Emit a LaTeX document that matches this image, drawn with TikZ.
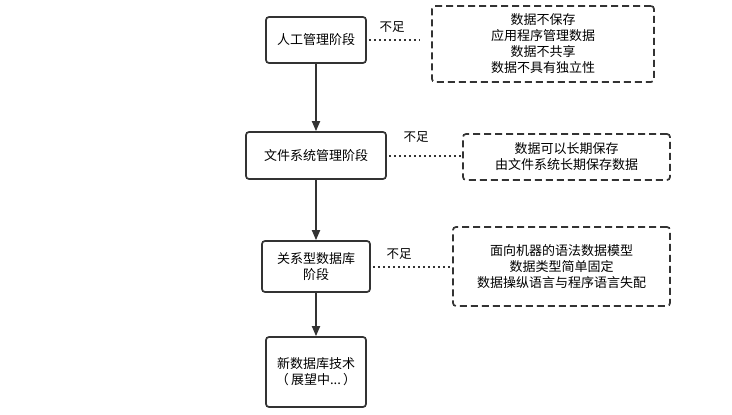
\documentclass[tikz,border=0pt]{standalone}
\usepackage{fontspec}
\setmainfont{Noto Sans CJK SC}
\usetikzlibrary{arrows.meta}

\begin{document}
\begin{tikzpicture}[x=1pt,y=-1pt,
stage/.style={draw=black!80,line width=1.7pt,rounded corners=3pt,
fill=white,align=center,inner sep=0pt,
font=\fontsize{13}{16}\selectfont},
lack/.style={stage,dash pattern=on 7pt off 4pt},
flow/.style={draw=black!80,line width=1.8pt,
-{Triangle[length=10pt,width=8pt]}},
gap/.style={draw=black!80,line width=2pt,dash pattern=on 2pt off 3pt},
note/.style={font=\fontsize{12.5}{14}\selectfont,inner sep=0pt}]
\useasboundingbox (0,0) rectangle (732,415);
% stages
\node [stage,minimum width=100pt,minimum height=46pt] (s1) at (316,40) {人工管理阶段};
\node [stage,minimum width=140pt,minimum height=47pt] (s2) at (316,155.5) {文件系统管理阶段};
\node [stage,minimum width=108pt,minimum height=51pt] (s3) at (316,266.5) {关系型数据库\\阶段};
\node [stage,minimum width=100pt,minimum height=70pt] (s4) at (316,372) {新数据库技术\\（\,展望中...\,）};
% shortcomings
\node [lack,minimum width=222pt,minimum height=76pt] (l1) at (543,44)
  {数据不保存\\应用程序管理数据\\数据不共享\\数据不具有独立性};
\node [lack,minimum width=207pt,minimum height=46pt] (l2) at (566.5,157)
  {数据可以长期保存\\由文件系统长期保存数据};
\node [lack,minimum width=217pt,minimum height=79pt] (l3) at (561.5,266.5)
  {面向机器的语法数据模型\\数据类型简单固定\\数据操纵语言与程序语言失配};
\coordinate (e1) at (420,40);
\draw [flow] (s1) -- (s2);
\draw [flow] (s2) -- (s3);
\draw [flow] (s3) -- (s4);
\draw [gap] (s1.east) ++(2,0) -- (e1);
\draw [gap] (s2.east) ++(2,0) -- (s2.east -| l2.west);
\draw [gap] (s3.east) ++(2,0) -- (s3.east -| l3.west);
\node [note] (n1) at (392,27) {不足};
\node [note] (n2) at (416,137) {不足};
\node [note] (n3) at (399,254) {不足};
\end{tikzpicture}
\end{document}
